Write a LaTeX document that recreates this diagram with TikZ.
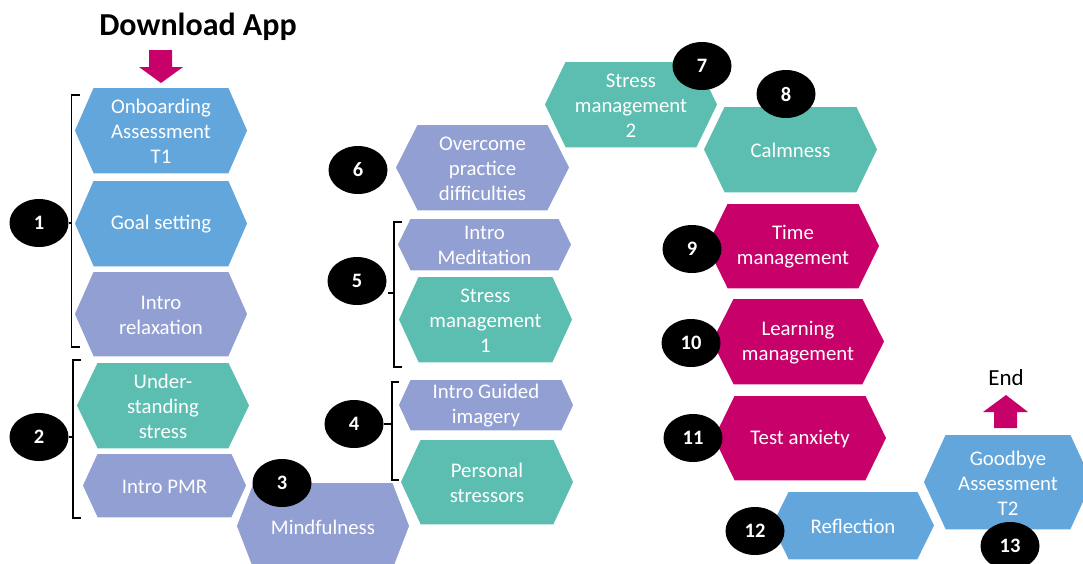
\documentclass[tikz,border=0pt]{standalone}
\usepackage{fontspec}
\setmainfont{Carlito}
\usetikzlibrary{shapes.geometric}

\definecolor{hexblue}{HTML}{63A6DC}
\definecolor{hexlav}{HTML}{919FD2}
\definecolor{hexteal}{HTML}{5CBEB0}
\definecolor{hexmag}{HTML}{C8006A}

\tikzset{
  hexbase/.style={draw=white, line width=1.5pt, line join=miter},
  fblue/.style={hexbase, fill=hexblue},
  flav/.style={hexbase, fill=hexlav},
  fteal/.style={hexbase, fill=hexteal},
  fmag/.style={hexbase, fill=hexmag},
  hextext/.style={text=white, align=center, inner sep=0pt,
    font=\fontsize{20.8}{25}\selectfont},
  badge/.style={ellipse, fill=black, minimum width=59pt, minimum height=48pt,
    inner sep=0pt, text=white, font=\fontsize{20.5}{22}\selectfont\bfseries},
  bracket/.style={draw=black, line width=1.3pt},
  blockarrow/.style={fill=hexmag},
  title/.style={font=\fontsize{32}{36}\selectfont\bfseries, text=black},
  plain/.style={font=\fontsize{23}{26}\selectfont, text=black}
}

% #1 name, #2 style, #3 left tip x, #4 right tip x, #5 top y, #6 bottom y, #7 inset, #8 text
\newcommand\hexa[8]{%
  \path[#2] (#3,{(#5+#6)/2}) -- ({#3+#7},#5) -- ({#4-#7},#5) -- (#4,{(#5+#6)/2})
    -- ({#4-#7},#6) -- ({#3+#7},#6) -- cycle;
  \node[hextext] (#1) at ({(#3+#4)/2},{(#5+#6)/2+1}) {#8};
}

\begin{document}
\begin{tikzpicture}[x=1pt,y=-1pt]
\useasboundingbox (0,0) rectangle (1083,563);

% start and end labels
\node[title] (download) at (198,27) {Download App};
\node[plain] (endlbl) at (1006,378) {End};

% block arrows
\path[blockarrow] (149,50) -- (172,50) -- (172,67) -- (183,67) -- (161,83)
  -- (139,67) -- (149,67) -- cycle;
\path[blockarrow] (994,428) -- (1017,428) -- (1017,412) -- (1028,412) -- (1006,395)
  -- (983,412) -- (994,412) -- cycle;

% module hexagons
\hexa{onb}{fblue}{74}{248}{87}{174}{19}{Onboarding\\Assessment\\T1}
\hexa{goal}{fblue}{74}{248}{180}{267}{19}{Goal setting}
\hexa{relax}{flav}{74}{248}{271}{357}{19}{Intro\\relaxation}
\hexa{under}{fteal}{76}{250}{362}{449}{21}{Under-\\standing\\stress}
\hexa{pmr}{flav}{82}{247}{453}{518}{15}{Intro PMR}
\hexa{mind}{flav}{236}{410}{482}{570}{17}{Mindfulness}
\hexa{guided}{flav}{398}{574}{379}{431}{12}{Intro Guided\\imagery}
\hexa{pers}{fteal}{400}{574}{439}{525}{20}{Personal\\stressors}
\hexa{medit}{flav}{397}{572}{218}{271}{13}{Intro\\Meditation}
\hexa{smone}{fteal}{398}{573}{276}{363}{20}{Stress\\management\\1}
\hexa{overcome}{flav}{395}{570}{124}{211}{22}{Overcome\\practice\\difficulties}
\hexa{smtwo}{fteal}{544}{718}{61}{148}{21}{Stress\\management\\2}
\hexa{calm}{fteal}{703}{878}{106}{193}{21}{Calmness}
\hexa{time}{fmag}{706}{880}{203}{289}{21}{Time\\management}
\hexa{learn}{fmag}{711}{885}{298}{385}{22}{Learning\\management}
\hexa{test}{fmag}{713}{887}{395}{481}{21}{Test anxiety}
\hexa{refl}{fblue}{771}{935}{491}{560}{17}{Reflection}
\hexa{bye}{fblue}{923}{1093}{434}{530}{22}{Goodbye\\Assessment\\T2}

% numbered badges
\node[badge] (b1) at (39,223) {1};
\node[badge] (b2) at (39,437) {2};
\node[badge] (b3) at (282,483) {3};
\node[badge] (b4) at (354,424) {4};
\node[badge] (b5) at (357,281) {5};
\node[badge] (b6) at (358,170) {6};
\node[badge] (b7) at (702,66) {7};
\node[badge] (b8) at (786,94) {8};
\node[badge] (b9) at (692,249) {9};
\node[badge] (b10) at (691,343) {10};
\node[badge] (b11) at (693,438) {11};
\node[badge] (b12) at (755,531) {12};
\node[badge] (b13) at (1010,546) {13};

% grouping brackets
\draw[bracket] (80,95) -- (71.5,95) -- (71.5,347) -- (80,347);
\draw[bracket] (b1.east) -- (71.5,223);
\draw[bracket] (81,360) -- (73,360) -- (73,518) -- (81,518);
\draw[bracket] (b2.east) -- (73,437);
\draw[bracket] (402,222) -- (394,222) -- (394,367) -- (402,367);
\draw[bracket] (388,293) -- (394,293);
\draw[bracket] (399,382) -- (392,382) -- (392,480) -- (399,480);
\draw[bracket] (b4.east) -- (392,424);
\end{tikzpicture}
\end{document}
